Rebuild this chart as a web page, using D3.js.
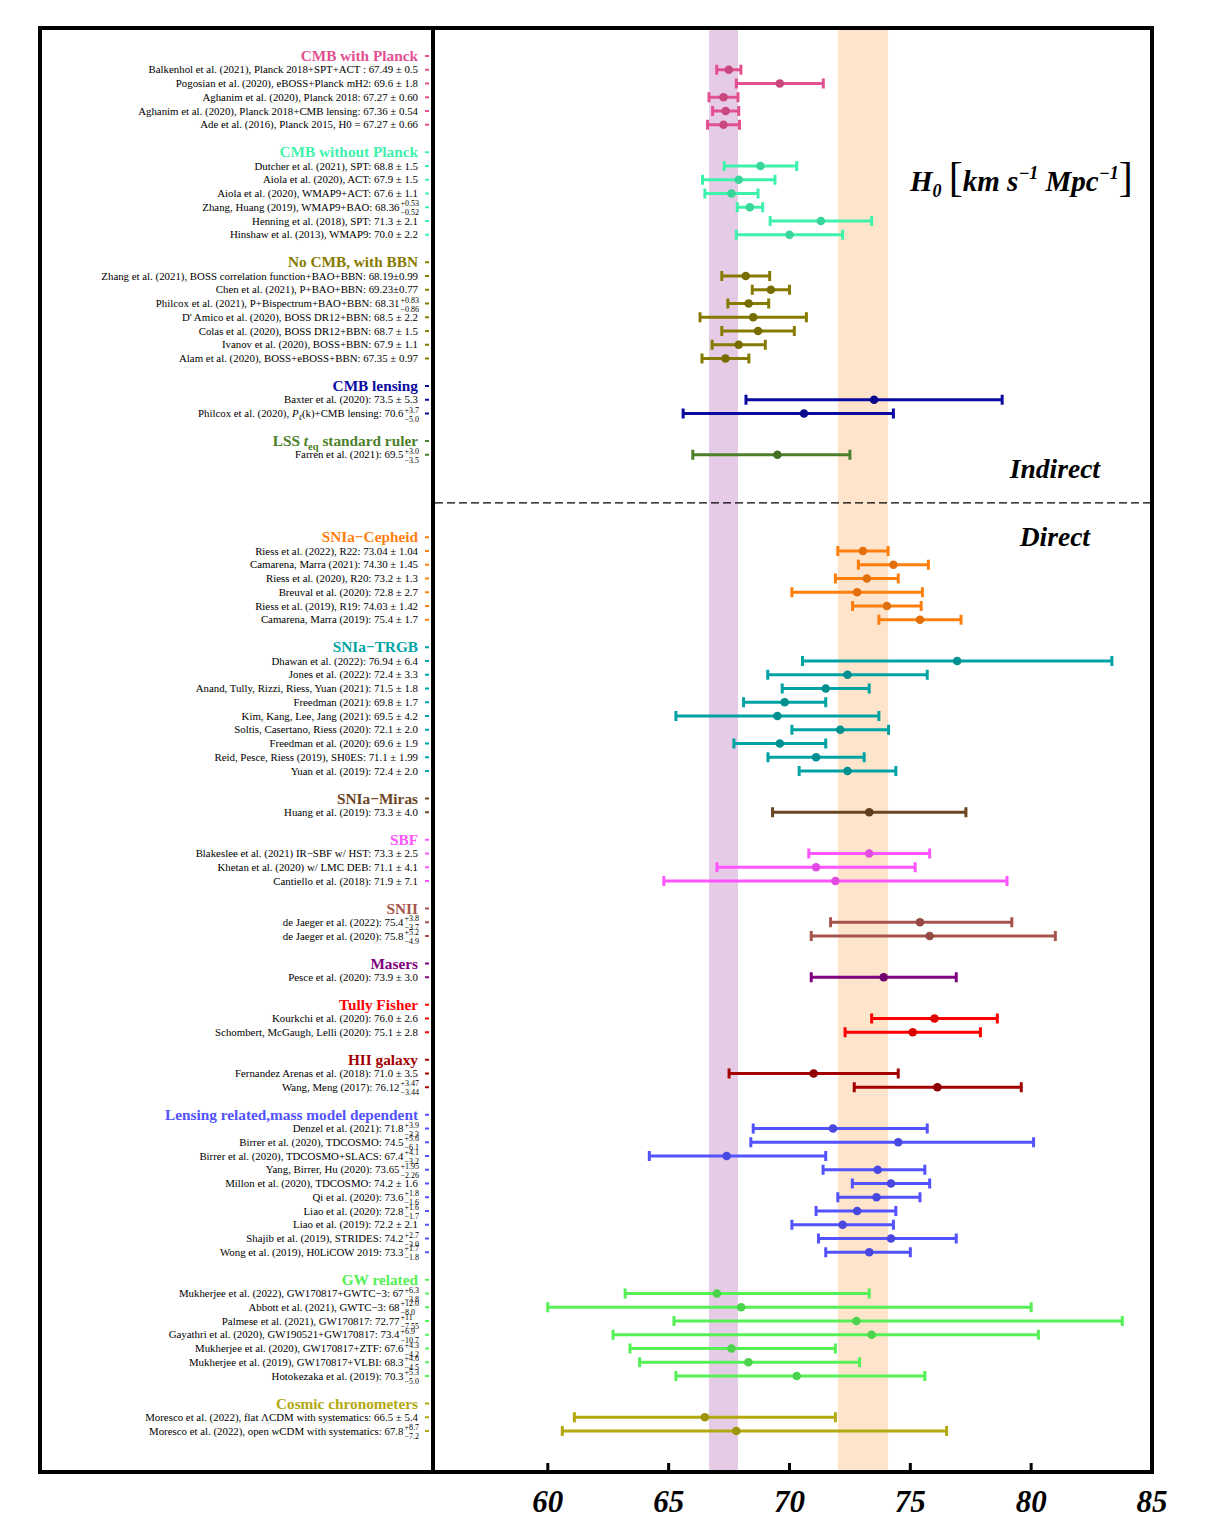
<!DOCTYPE html>
<html><head><meta charset="utf-8">
<script src="https://cdn.jsdelivr.net/npm/d3@7"></script>
<style>body{margin:0;background:#fff} svg{display:block} text{font-family:"Liberation Serif","Times New Roman",serif}</style>
</head><body><svg id="c" width="1214" height="1539"></svg>
<script>
// ---------------- DATA ----------------
const groupNames = ["CMB with Planck","CMB without Planck","No CMB, with BBN","CMB lensing","LSS teq standard ruler",
  "SNIa\u2212Cepheid","SNIa\u2212TRGB","SNIa\u2212Miras","SBF","SNII","Masers","Tully Fisher","HII galaxy",
  "Lensing related,mass model dependent","GW related","Cosmic chronometers"];
const groupColors = ["#e2508f","#3ff2ac","#867a00","#0a0aa0","#4c7f2a",
  "#ff7f0e","#00a3a3","#6b4422","#ff55ff","#a5544c","#7f007f","#ff0000","#a30000",
  "#5252ff","#55f055","#b3a80e"];
const groupSizes = [5,6,7,2,1, 6,9,1,3,2,1,2,2,10,7,2];
const firstDirectGroup = 5;

const labels = [
  "Balkenhol et al. (2021), Planck 2018+SPT+ACT : 67.49 \u00b1 0.5",
  "Pogosian et al. (2020), eBOSS+Planck mH2: 69.6 \u00b1 1.8",
  "Aghanim et al. (2020), Planck 2018: 67.27 \u00b1 0.60",
  "Aghanim et al. (2020), Planck 2018+CMB lensing: 67.36 \u00b1 0.54",
  "Ade et al. (2016), Planck 2015, H0 = 67.27 \u00b1 0.66",
  "Dutcher et al. (2021), SPT: 68.8 \u00b1 1.5",
  "Aiola et al. (2020), ACT: 67.9 \u00b1 1.5",
  "Aiola et al. (2020), WMAP9+ACT: 67.6 \u00b1 1.1",
  "Zhang, Huang (2019), WMAP9+BAO: 68.36",
  "Henning et al. (2018), SPT: 71.3 \u00b1 2.1",
  "Hinshaw et al. (2013), WMAP9: 70.0 \u00b1 2.2",
  "Zhang et al. (2021), BOSS correlation function+BAO+BBN: 68.19\u00b10.99",
  "Chen et al. (2021), P+BAO+BBN: 69.23\u00b10.77",
  "Philcox et al. (2021), P+Bispectrum+BAO+BBN: 68.31",
  "D' Amico et al. (2020), BOSS DR12+BBN: 68.5 \u00b1 2.2",
  "Colas et al. (2020), BOSS DR12+BBN: 68.7 \u00b1 1.5",
  "Ivanov et al. (2020), BOSS+BBN: 67.9 \u00b1 1.1",
  "Alam et al. (2020), BOSS+eBOSS+BBN: 67.35 \u00b1 0.97",
  "Baxter et al. (2020): 73.5 \u00b1 5.3",
  "Philcox et al. (2020), P\u2113(k)+CMB lensing: 70.6",
  "Farren et al. (2021): 69.5",
  "Riess et al. (2022), R22: 73.04 \u00b1 1.04",
  "Camarena, Marra (2021): 74.30 \u00b1 1.45",
  "Riess et al. (2020), R20: 73.2 \u00b1 1.3",
  "Breuval et al. (2020): 72.8 \u00b1 2.7",
  "Riess et al. (2019), R19: 74.03 \u00b1 1.42",
  "Camarena, Marra (2019): 75.4 \u00b1 1.7",
  "Dhawan et al. (2022): 76.94 \u00b1 6.4",
  "Jones et al. (2022): 72.4 \u00b1 3.3",
  "Anand, Tully, Rizzi, Riess, Yuan (2021): 71.5 \u00b1 1.8",
  "Freedman (2021): 69.8 \u00b1 1.7",
  "Kim, Kang, Lee, Jang (2021): 69.5 \u00b1 4.2",
  "Soltis, Casertano, Riess (2020): 72.1 \u00b1 2.0",
  "Freedman et al. (2020): 69.6 \u00b1 1.9",
  "Reid, Pesce, Riess (2019), SH0ES: 71.1 \u00b1 1.99",
  "Yuan et al. (2019): 72.4 \u00b1 2.0",
  "Huang et al. (2019): 73.3 \u00b1 4.0",
  "Blakeslee et al. (2021) IR\u2212SBF w/ HST: 73.3 \u00b1 2.5",
  "Khetan et al. (2020) w/ LMC DEB: 71.1 \u00b1 4.1",
  "Cantiello et al. (2018): 71.9 \u00b1 7.1",
  "de Jaeger et al. (2022): 75.4",
  "de Jaeger et al. (2020): 75.8",
  "Pesce et al. (2020): 73.9 \u00b1 3.0",
  "Kourkchi et al. (2020): 76.0 \u00b1 2.6",
  "Schombert, McGaugh, Lelli (2020): 75.1 \u00b1 2.8",
  "Fernandez Arenas et al. (2018): 71.0 \u00b1 3.5",
  "Wang, Meng  (2017): 76.12",
  "Denzel et al. (2021): 71.8",
  "Birrer et al. (2020), TDCOSMO: 74.5",
  "Birrer et al. (2020), TDCOSMO+SLACS: 67.4",
  "Yang, Birrer, Hu (2020): 73.65",
  "Millon et al. (2020), TDCOSMO: 74.2 \u00b1 1.6",
  "Qi et al. (2020): 73.6",
  "Liao et al. (2020): 72.8",
  "Liao et al. (2019): 72.2 \u00b1 2.1",
  "Shajib et al. (2019), STRIDES: 74.2",
  "Wong et al. (2019), H0LiCOW 2019: 73.3",
  "Mukherjee et al. (2022), GW170817+GWTC\u22123: 67",
  "Abbott et al. (2021), GWTC\u22123: 68",
  "Palmese et al. (2021), GW170817: 72.77",
  "Gayathri et al. (2020), GW190521+GW170817: 73.4",
  "Mukherjee et al. (2020), GW170817+ZTF: 67.6",
  "Mukherjee et al. (2019), GW170817+VLBI: 68.3",
  "Hotokezaka et al. (2019): 70.3",
  "Moresco et al. (2022), flat \u039bCDM with systematics: 66.5 \u00b1 5.4",
  "Moresco et al. (2022), open wCDM with systematics: 67.8"
];
const values = [67.49,69.6,67.27,67.36,67.27, 68.8,67.9,67.6,68.36,71.3,70.0,
  68.19,69.23,68.31,68.5,68.7,67.9,67.35, 73.5,70.6, 69.5,
  73.04,74.30,73.2,72.8,74.03,75.4,
  76.94,72.4,71.5,69.8,69.5,72.1,69.6,71.1,72.4,
  73.3, 73.3,71.1,71.9, 75.4,75.8, 73.9, 76.0,75.1, 71.0,76.12,
  71.8,74.5,67.4,73.65,74.2,73.6,72.8,72.2,74.2,73.3,
  67,68,72.77,73.4,67.6,68.3,70.3, 66.5,67.8];
const errPlus = ["0.5","1.8","0.60","0.54","0.66", "1.5","1.5","1.1","0.53","2.1","2.2",
  "0.99","0.77","0.83","2.2","1.5","1.1","0.97", "5.3","3.7", "3.0",
  "1.04","1.45","1.3","2.7","1.42","1.7",
  "6.4","3.3","1.8","1.7","4.2","2.0","1.9","1.99","2.0",
  "4.0", "2.5","4.1","7.1", "3.8","5.2", "3.0", "2.6","2.8", "3.5","3.47",
  "3.9","5.6","4.1","1.95","1.6","1.8","1.6","2.1","2.7","1.7",
  "6.3","12.0","11","6.9","4.3","4.6","5.3", "5.4","8.7"];
const errMinus = ["0.5","1.8","0.60","0.54","0.66", "1.5","1.5","1.1","0.52","2.1","2.2",
  "0.99","0.77","0.86","2.2","1.5","1.1","0.97", "5.3","5.0", "3.5",
  "1.04","1.45","1.3","2.7","1.42","1.7",
  "6.4","3.3","1.8","1.7","4.2","2.0","1.9","1.99","2.0",
  "4.0", "2.5","4.1","7.1", "3.7","4.9", "3.0", "2.6","2.8", "3.5","3.44",
  "3.3","6.1","3.2","2.26","1.6","1.6","1.7","2.1","3.0","1.8",
  "3.8","8.0","7.55","10.7","4.2","4.5","5.0", "5.4","7.2"];
const asymmetric = labels.map(l => l.indexOf("\u00b1") < 0);
const xTicks = [60,65,70,75,80,85];
const planckRef = [67.27, 0.60];   // shaded band
const shoesRef  = [73.04, 1.04];   // shaded band

// ---------------- LAYOUT ----------------
const svg = d3.select("#c");
const frame = {l:40, t:28, r:1152, b:1472, div:433};
const x = d3.scaleLinear().domain([55.25,85]).range([frame.div, frame.r]);

// row indices
let row = 0; const headerRows = [], entryRows = [], entryGroup = [];
groupSizes.forEach((n,g) => {
  if (g > 0) row += (g === firstDirectGroup ? 6 : 2);
  headerRows.push(row);
  for (let i=0;i<n;i++){ row++; entryRows.push(row); entryGroup.push(g); }
});
const y = d3.scaleLinear().domain([0,row]).range([56,1431]);

// bands
[[planckRef,"#e6cbe6"],[shoesRef,"#fde4cb"]].forEach(([r,c]) => {
  svg.append("rect").attr("x", x(r[0]-r[1])).attr("width", x(r[0]+r[1]) - x(r[0]-r[1]))
    .attr("y", frame.t).attr("height", frame.b-frame.t).attr("fill", c);
});

// dashed separator
const sepY = y(headerRows[firstDirectGroup] - 2.5);
svg.append("line").attr("x1", frame.div+2).attr("x2", frame.r-2).attr("y1", sepY).attr("y2", sepY)
  .attr("stroke","#000").attr("stroke-width",1.1).attr("stroke-dasharray","8,4");

// error bars
const bars = svg.append("g");
values.forEach((v,i) => {
  const c = groupColors[entryGroup[i]];
  const yy = y(entryRows[i]);
  const lo = x(v - +errMinus[i]), hi = x(v + +errPlus[i]);
  bars.append("line").attr("x1",lo).attr("x2",hi).attr("y1",yy).attr("y2",yy).attr("stroke",c).attr("stroke-width",3);
  [lo,hi].forEach(xx => bars.append("line").attr("x1",xx).attr("x2",xx).attr("y1",yy-5).attr("y2",yy+5).attr("stroke",c).attr("stroke-width",3));
  bars.append("circle").attr("cx",x(v)).attr("cy",yy).attr("r",4.3).attr("fill",d3.color(c).darker(0.35));
});

// labels
const labX = 418;
const lab = svg.append("g");
function addMain(t, text){
  if (text.indexOf("P\u2113") >= 0){
    const [a,b] = text.split("P\u2113");
    t.append("tspan").text(a);
    t.append("tspan").attr("font-style","italic").text("P");
    t.append("tspan").attr("font-style","italic").attr("font-size","8px").attr("dy",2.5).text("\u2113");
    t.append("tspan").attr("dy",-2.5).text(b);
  } else t.text(text);
}
groupNames.forEach((g,gi) => {
  const yy = y(headerRows[gi]);
  const t = lab.append("text").attr("x",labX).attr("y",yy+5).attr("text-anchor","end")
    .attr("font-size","15.3px").attr("font-weight","bold").attr("fill",groupColors[gi]);
  if (g.indexOf("teq")>=0){
    t.append("tspan").text("LSS ");
    t.append("tspan").attr("font-style","italic").text("t");
    t.append("tspan").attr("font-size","10.5px").attr("dy",4).text("eq");
    t.append("tspan").attr("dy",-4).text(" standard ruler");
  } else t.text(g);
  lab.append("line").attr("x1",425).attr("x2",429).attr("y1",yy).attr("y2",yy).attr("stroke",groupColors[gi]).attr("stroke-width",2);
});
labels.forEach((l,i) => {
  const yy = y(entryRows[i]);
  const c = groupColors[entryGroup[i]];
  lab.append("line").attr("x1",425).attr("x2",429).attr("y1",yy).attr("y2",yy).attr("stroke",c).attr("stroke-width",2);
  if (!asymmetric[i]){
    const t = lab.append("text").attr("x",labX).attr("y",yy+3.5).attr("text-anchor","end").attr("font-size","10.85px").attr("fill","#000");
    addMain(t,l);
  } else {
    const sup = lab.append("text").attr("y",yy-1).attr("font-size","8px").text("+"+errPlus[i]);
    const sub = lab.append("text").attr("y",yy+8).attr("font-size","8px").text("\u2212"+errMinus[i]);
    const w = Math.max(sup.node().getComputedTextLength(), sub.node().getComputedTextLength());
    const x0 = labX - w;
    sup.attr("x", x0+1); sub.attr("x", x0+1);
    const t = lab.append("text").attr("x",x0).attr("y",yy+3.5).attr("text-anchor","end").attr("font-size","10.85px");
    addMain(t,l);
  }
});

// frame
const fr = svg.append("g").attr("stroke","#000").attr("stroke-width",4).attr("fill","none");
fr.append("rect").attr("x",frame.l).attr("y",frame.t).attr("width",frame.r-frame.l).attr("height",frame.b-frame.t);
fr.append("line").attr("x1",frame.div).attr("x2",frame.div).attr("y1",frame.t).attr("y2",frame.b);

// x axis ticks and labels
const ax = svg.append("g");
xTicks.forEach(v => {
  if (v < 85) ax.append("line").attr("x1",x(v)).attr("x2",x(v)).attr("y1",frame.b).attr("y2",frame.b-9).attr("stroke","#000").attr("stroke-width",3);
  ax.append("text").attr("x",x(v)).attr("y",1512).attr("text-anchor","middle")
    .attr("font-size","31px").attr("font-weight","bold").attr("font-style","italic").text(v);
});

// annotations
const ti = svg.append("text").attr("x",910).attr("y",191).attr("font-size","29px").attr("font-weight","bold").attr("font-style","italic");
ti.append("tspan").text("H");
ti.append("tspan").attr("font-size","18px").attr("dy",6).text("0");
ti.append("tspan").attr("dy",-6).text(" ");
ti.append("tspan").attr("font-size","42px").attr("font-weight","normal").attr("font-style","normal").text("[");
ti.append("tspan").text("km s");
ti.append("tspan").attr("font-size","18px").attr("dy",-12).text("\u22121");
ti.append("tspan").attr("dy",12).text(" Mpc");
ti.append("tspan").attr("font-size","18px").attr("dy",-12).text("\u22121");
ti.append("tspan").attr("dy",12).attr("font-size","42px").attr("font-weight","normal").attr("font-style","normal").text("]");

svg.append("text").attr("x",1100).attr("y",478).attr("text-anchor","end").attr("font-size","27.5px")
  .attr("font-weight","bold").attr("font-style","italic").text("Indirect");
svg.append("text").attr("x",1090).attr("y",546).attr("text-anchor","end").attr("font-size","27.5px")
  .attr("font-weight","bold").attr("font-style","italic").text("Direct");
</script>
</body></html>
